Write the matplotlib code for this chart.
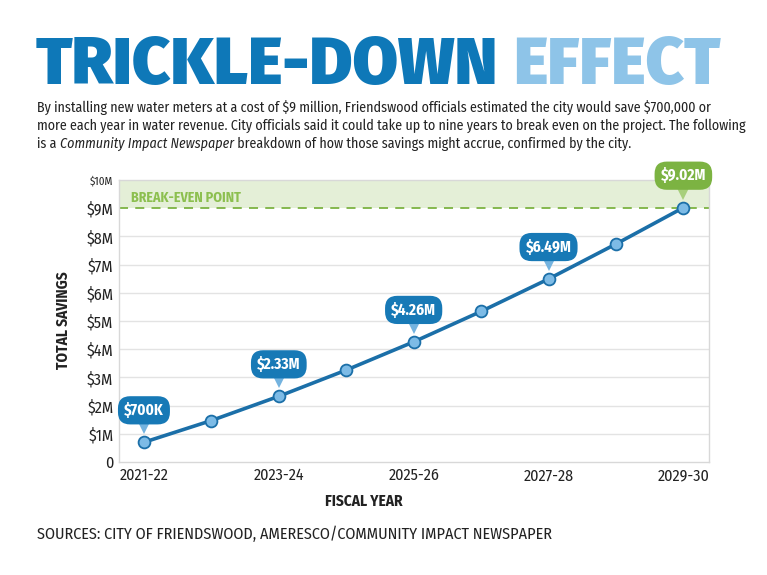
import matplotlib
matplotlib.use("Agg")
import matplotlib.pyplot as plt
import matplotlib.transforms as mtransforms
import numpy as np

plt.rcParams["text.parse_math"] = False

# data
years = ["2021-22", "2022-23", "2023-24", "2024-25", "2025-26",
         "2026-27", "2027-28", "2028-29", "2029-30"]
savings = [0.70, 1.47, 2.33, 3.26, 4.26, 5.34, 6.49, 7.73, 9.02]  # $ millions
callout_idx = [0, 2, 4, 6, 8]
callout_text = ["$700K", "$2.33M", "$4.26M", "$6.49M", "$9.02M"]
ytick_vals = list(range(0, 11))
ytick_labels = ["0"] + ["$%dM" % v for v in range(1, 11)]
break_even = 9.0

DARK = "#0e78b8"
LIGHT = "#8ec4e8"
LINE = "#1b6fa8"
GREEN = "#7cb342"
TITLEF = ["Fira Sans", "Fira Sans Condensed", "DejaVu Sans"]
NARROW = ["Fira Sans Condensed", "Liberation Sans", "DejaVu Sans"]
INK = "#222222"

fig = plt.figure(figsize=(7.67, 5.75), dpi=100)
W, H = 767, 575

def fx(px):
    return px / W

def fy(py):
    return 1 - py / H

def fit(t, width_px):
    # scale a text so it spans width_px
    fig.canvas.draw()
    w = t.get_window_extent().width
    t.set_fontsize(t.get_fontsize() * width_px / w)

# title
t1 = fig.text(fx(36), fy(84), "TRICKLE-DOWN", fontsize=50, fontweight="black",
              family=TITLEF, color=DARK, va="baseline")
fit(t1, 462)
fig.text(fx(513), fy(84), "EFFECT", fontsize=t1.get_fontsize(), fontweight="black",
         family=TITLEF, color=LIGHT, va="baseline")

# intro text
body = dict(fontsize=10, family=NARROW, color=INK, va="baseline")
l1 = fig.text(fx(37), fy(112), "By installing new water meters at a cost of $9 million, Friendswood officials "
              "estimated the city would save $700,000 or", **body)
fit(l1, 676)
body["fontsize"] = l1.get_fontsize()
fig.text(fx(37), fy(130), "more each year in water revenue. City officials said it could take up to nine "
         "years to break even on the project. The following", **body)
pieces = [("is a ", "normal"), ("Community Impact Newspaper", "italic"),
          (" breakdown of how those savings might accrue, confirmed by the city.", "normal")]
xpos = 37
for s, st in pieces:
    t = fig.text(fx(xpos), fy(148), s, style=st, **body)
    fig.canvas.draw()
    xpos = t.get_window_extent().x1

# axes
ax = fig.add_axes([fx(119), fy(462), fx(709) - fx(119), fy(180) - fy(462)])
x = np.arange(len(years))
ax.set_xlim(-0.37, 8.38)
ax.set_ylim(0, 10)

ax.axhspan(break_even, 10, color="#e4efd7", zorder=0, lw=0)
for v in ytick_vals[1:-1]:
    if v < break_even:
        ax.axhline(v, color="#e3e3e3", lw=1, zorder=1)
ax.axhline(break_even, color=GREEN, lw=1.3, ls=(0, (5, 4)), zorder=2)
ax.text(0.02, break_even + 0.12, "BREAK-EVEN POINT", transform=ax.get_yaxis_transform(),
        fontsize=10, fontweight="bold", color="#8cbf4f", family=NARROW, va="bottom")

for sp in ax.spines.values():
    sp.set_color("#d8d8d8")
    sp.set_linewidth(1)

ax.plot(x, savings, color=LINE, lw=2.6, zorder=3)
ax.plot(x, savings, ls="none", marker="o", ms=8.5, mfc="#7dbbe6", mec=LINE, mew=1.3, zorder=4)

ax.set_xticks(x[::2])
ax.set_xticklabels(years[::2], family=NARROW, fontsize=11.5, color=INK)
ax.set_yticks(ytick_vals)
ax.set_yticklabels(ytick_labels, family=NARROW, fontsize=11.5, color=INK)
ax.get_yticklabels()[-1].set_fontsize(8)
ax.tick_params(length=0, pad=4)
ax.tick_params(axis="x", pad=4)

# callouts
tri_tr = mtransforms.offset_copy(ax.transData, fig=fig, x=0, y=16, units="dots")
for i, lab in zip(callout_idx, callout_text):
    box_col = GREEN if savings[i] >= break_even else "#1779b6"
    tri_col = "#a7cf7c" if savings[i] >= break_even else "#74b3df"
    ax.plot(x[i], savings[i], ls="none", marker="v", ms=11, color=tri_col, mew=0,
            transform=tri_tr, zorder=5, clip_on=False)
    ax.annotate(lab, (x[i], savings[i]), xytext=(0, 23), textcoords="offset points",
                ha="center", va="center", color="white", fontsize=11, fontweight="bold",
                family=NARROW, zorder=6, annotation_clip=False,
                bbox=dict(boxstyle="round,pad=0.4,rounding_size=0.8", fc=box_col, ec="none"))

fig.text(fx(63), fy(320), "TOTAL SAVINGS", rotation=90, ha="center", va="center",
         fontsize=11, fontweight="bold", family=NARROW, color=INK)
fig.text(fx(364), fy(501), "FISCAL YEAR", ha="center", va="center",
         fontsize=11, fontweight="bold", family=NARROW, color=INK)
src = fig.text(fx(37), fy(539), "SOURCES: CITY OF FRIENDSWOOD, AMERESCO/COMMUNITY IMPACT NEWSPAPER",
               fontsize=10, family=NARROW, color=INK, va="baseline")
fit(src, 514)

fig.savefig("out.png", dpi=100, facecolor="white")
